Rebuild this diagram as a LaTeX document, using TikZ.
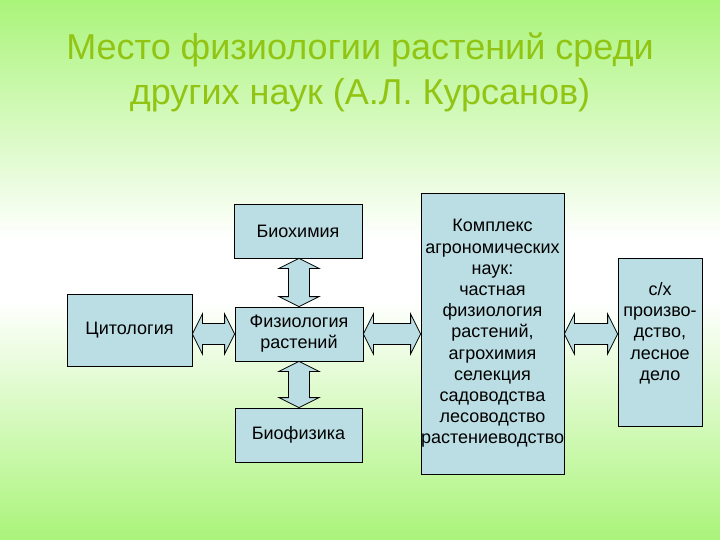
\documentclass[tikz,border=0pt]{standalone}
\usepackage{fontspec}
\setmainfont{Liberation Sans}
\usetikzlibrary{calc}
\definecolor{boxblue}{RGB}{187,222,228}
\definecolor{bggreen}{RGB}{170,244,122}
\definecolor{titlegreen}{RGB}{146,196,20}
\tikzset{
  head length/.store in=\HeadLen,
  head half/.store in=\HeadHalf,
  shaft half/.store in=\ShaftHalf,
  head length=10pt,
  head half=20pt,
  shaft half=10.5pt,
  sci/.style={draw=black, fill=boxblue, line width=0.8pt, align=center,
    inner sep=2pt, font=\fontsize{18}{21.2}\selectfont},
  blockarrow/.style={draw=black, fill=boxblue, line width=0.8pt, line join=miter},
  title/.style={text=titlegreen, align=center, font=\fontsize{36}{45}\selectfont}
}

\begin{document}
\begin{tikzpicture}[x=1pt, y=-1pt]
  % background: green - white - green
  \useasboundingbox (0,0) rectangle (720,540);
  \shade[top color=bggreen, bottom color=white] (0,0) rectangle (720,240);
  \fill[white] (0,240) rectangle (720,300);
  \shade[top color=white, bottom color=bggreen] (0,300) rectangle (720,540);

  % Title
  \node[title] (title) at (360,72) {Место физиологии растений среди\\других наук (А.Л. Курсанов)};

  % Sciences
  \node[sci, minimum width=128pt, minimum height=54pt]  (bio)  at (298,231)   {Биохимия};
  \node[sci, minimum width=125pt, minimum height=72pt]  (cyt)  at (129.5,330) {Цитология};
  \node[sci, minimum width=128pt, minimum height=54pt]  (phys) at (299,334)   {Физиология\\растений};
  \node[sci, minimum width=127pt, minimum height=54pt]  (biof) at (298.5,435) {Биофизика};
  \node[sci, inner xsep=0pt, text width=143pt, minimum height=281pt] (agro) at (492.5,333.5)
    {Комплекс\\агрономических\\наук:\\частная\\физиология\\растений,\\агрохимия\\селекция\\садоводства\\лесоводство\\растениеводство};
  \node[sci, minimum width=84pt, minimum height=168pt]  (sx)   at (660,342)
    {с/х\\произво-\\дство,\\лесное\\дело\\\mbox{}};

  % Horizontal double block arrow from #1.east to #2.west (axis at phys)
  \newcommand{\HArrow}[2]{%
    \draw[blockarrow] let \p1=(#1.east), \p2=(#2.west), \p3=(phys.center) in
      (\x1,\y3) -- (\x1+\HeadLen,\y3+\HeadHalf) -- (\x1+\HeadLen,\y3+\ShaftHalf)
      -- (\x2-\HeadLen,\y3+\ShaftHalf) -- (\x2-\HeadLen,\y3+\HeadHalf) -- (\x2,\y3)
      -- (\x2-\HeadLen,\y3-\HeadHalf) -- (\x2-\HeadLen,\y3-\ShaftHalf)
      -- (\x1+\HeadLen,\y3-\ShaftHalf) -- (\x1+\HeadLen,\y3-\HeadHalf) -- cycle;%
  }
  % Vertical double block arrow from #1.south to #2.north
  \newcommand{\VArrow}[2]{%
    \draw[blockarrow] let \p1=(#1.south), \p2=(#2.north), \p3=(phys.center) in
      (\x3,\y1) -- (\x3+\HeadHalf,\y1-\HeadLen) -- (\x3+\ShaftHalf,\y1-\HeadLen)
      -- (\x3+\ShaftHalf,\y2+\HeadLen) -- (\x3+\HeadHalf,\y2+\HeadLen) -- (\x3,\y2)
      -- (\x3-\HeadHalf,\y2+\HeadLen) -- (\x3-\ShaftHalf,\y2+\HeadLen)
      -- (\x3-\ShaftHalf,\y1-\HeadLen) -- (\x3-\HeadHalf,\y1-\HeadLen) -- cycle;%
  }

  \HArrow{cyt}{phys}
  \HArrow{phys}{agro}
  \HArrow{agro}{sx}
  \VArrow{bio}{phys}
  \VArrow{phys}{biof}
\end{tikzpicture}
\end{document}
